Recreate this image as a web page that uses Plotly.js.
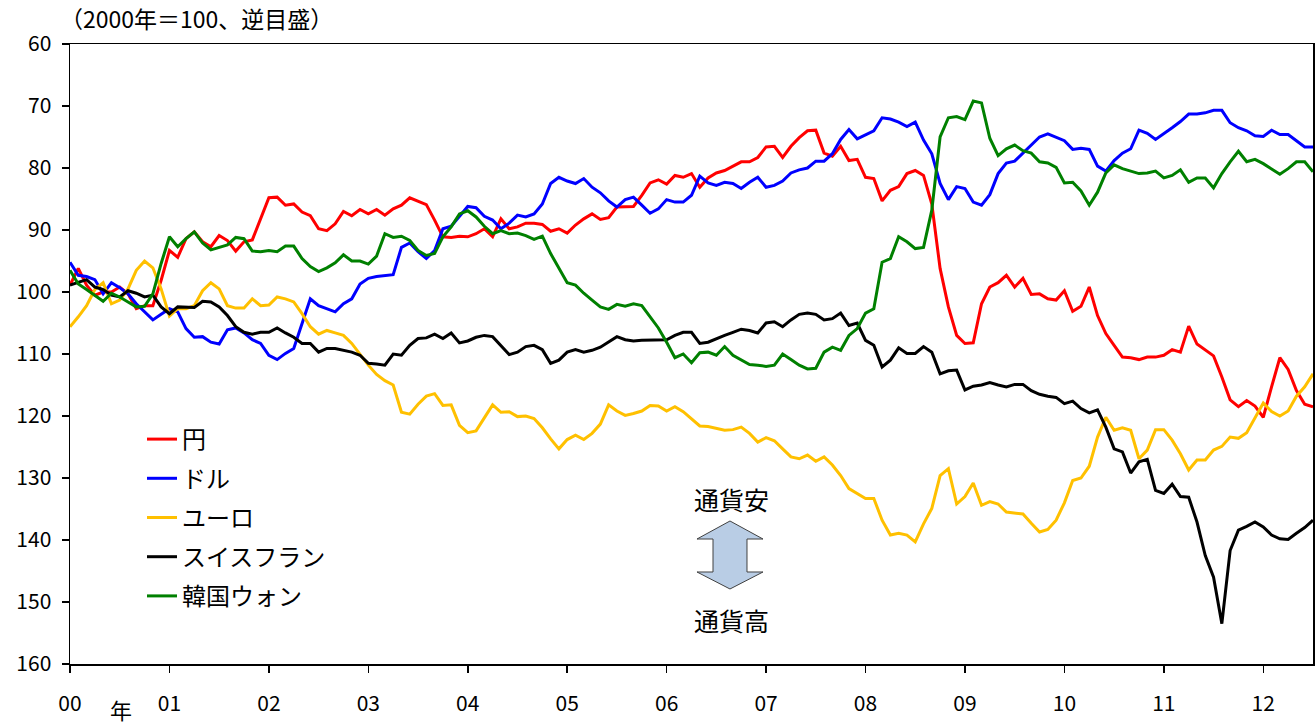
<!DOCTYPE html>
<html>
<head>
<meta charset="utf-8">
<script src="https://cdn.plot.ly/plotly-3.0.1.min.js"></script>
<style>
  html, body { margin: 0; padding: 0; background: #fff; }
  #chart { width: 1316px; height: 724px; }
</style>
</head>
<body>
<div id="chart"></div>
<script>
// Monthly series, Jan 2000 .. Jul 2012 (2000 = 100, reversed scale)
const seriesNames = ['円', 'ドル', 'ユーロ', 'スイスフラン', '韓国ウォン'];
const yearTickLabels = ['00','01','02','03','04','05','06','07','08','09','10','11','12'];

const yen = [98.9,96.2,98.9,100.5,100,100,99.2,100.3,102.7,102.2,102.2,98.1,
 93.3,94.4,91.4,90.3,91.9,92.7,90.9,91.7,93.4,91.9,91.6,88.2,
 84.8,84.7,86,85.8,87.1,87.7,89.8,90.1,89,87,87.7,86.7,
 87.4,86.7,87.6,86.6,86,84.8,85.3,85.9,88.4,91.1,91.2,91,
 91.1,90.6,89.8,91.1,88.2,89.8,89.5,88.9,88.9,89.1,90.2,89.8,
 90.5,89.2,88.2,87.4,88.3,88,86.3,86.3,86.2,84.4,82.4,81.9,
 82.6,81.2,81.5,80.9,83.1,81.6,80.8,80.4,79.7,79,79,78.3,
 76.6,76.5,78.3,76.5,75.1,74,73.9,77.6,78.1,76.5,78.8,78.6,
 81.5,81.7,85.3,83.6,83,80.9,80.4,81.2,85.8,96.2,102.4,107,
 108.3,108.2,101.9,99.2,98.5,97.3,99.2,97.8,100.4,100.3,101.1,101.3,
 99.8,103.1,102.3,99.2,103.8,106.7,108.6,110.5,110.6,110.9,110.5,110.5,
 110.2,109.3,109.7,105.5,108.4,109.3,110.3,113.7,117.4,118.5,117.5,118.4,
 120.2,115.3,110.6,112.5,115.9,118.1,118.5];

const dollar = [95.2,97.3,97.5,98,100.3,98.5,99.3,100.3,101.9,103.2,104.5,103.6,
 102.7,103.2,105.9,107.3,107.2,108.1,108.4,106.1,105.8,106.6,107.7,108.3,
 110.2,110.9,109.9,109.1,105.1,101.1,102.2,102.7,103.2,101.9,101.1,98.7,
 97.8,97.5,97.3,97.2,92.8,92.1,93.5,94.6,93.3,89.8,89.4,87.8,
 86.2,86.4,87.8,88.4,89.8,88.9,87.6,87.9,87.4,85.8,82.5,81.5,
 82.1,82.5,81.7,83.1,84,85.3,86.3,85.1,84.7,86,87.3,86.6,
 85.1,85.5,85.5,84.4,81.3,82.4,82.8,82.3,82.5,83.3,82.3,81.5,
 83.1,82.8,82.1,80.8,80.3,80,78.9,78.9,77.7,75.4,73.8,75.3,
 74.7,74,71.9,72.1,72.6,73.3,72.6,75.5,77.7,82.5,85.1,83,
 83.3,85.5,86,84.3,80.9,79.2,78.9,77.6,76.2,75,74.5,75.1,
 75.6,77,76.8,77,79.7,80.5,78.8,77.6,76.9,73.9,74.4,75.4,
 74.5,73.5,72.5,71.3,71.3,71.1,70.7,70.7,72.7,73.5,74,74.8,
 74.9,73.9,74.6,74.6,75.6,76.6,76.6];

const euro = [105.6,104,102.2,99.6,98.5,101.9,101.3,99.5,96.5,95,96.1,99.5,
 103.9,102.7,102.7,102.2,99.8,98.5,99.5,102.2,102.6,102.6,101.1,102.2,
 102.1,100.8,101.1,101.6,103.5,105.6,106.8,106.2,106.6,107,108.3,110,
 111.8,113.3,114.3,115,119.4,119.7,118.1,116.8,116.4,118.3,118.2,121.5,
 122.7,122.4,120.3,118.2,119.4,119.3,120.1,120,120.4,121.9,123.7,125.3,
 123.8,123.1,123.8,122.8,121.3,118.2,119.2,119.9,119.6,119.2,118.3,118.4,
 119.2,118.5,119.3,120.4,121.6,121.7,122,122.3,122.2,121.8,122.8,124.2,
 123.5,124,125.3,126.6,126.9,126.3,127.3,126.6,127.9,129.6,131.7,132.5,
 133.3,133.3,136.8,139.2,138.9,139.2,140.3,137.4,134.9,129.6,128.5,134.2,
 133,130.8,134.4,133.8,134.2,135.5,135.7,135.8,137.3,138.7,138.3,136.8,
 134,130.4,130,128.1,123.4,120.2,122.3,121.9,122.3,126.9,125.5,122.2,
 122.2,123.9,126.1,128.7,127.1,127.1,125.5,124.9,123.4,123.6,122.7,120.4,
 117.9,119.3,120,119.2,116.8,115.3,113.2];

const franc = [98.9,98.5,98,99.2,99.6,100.5,100.8,99.8,100.2,100.8,100.5,102.4,
 103.5,102.4,102.5,102.5,101.5,101.6,102.4,103.8,105.6,106.5,106.8,106.5,
 106.5,105.8,106.6,107.3,108.3,108.3,109.7,109.1,109.1,109.4,109.7,110.2,
 111.5,111.6,111.8,110,110.2,108.6,107.5,107.4,106.8,107.5,106.6,108.2,
 107.9,107.3,107,107.2,108.6,110.1,109.7,108.8,108.6,109.3,111.5,111,
 109.7,109.3,109.7,109.4,108.9,108.1,107.2,107.7,107.9,107.8,107.8,107.7,
 107.7,107,106.5,106.5,108.3,108.1,107.5,107,106.5,106,106.2,106.6,
 105,104.8,105.6,104.5,103.6,103.4,103.6,104.5,104.3,103.4,105.4,105,
 107.8,108.6,112.1,111,109,109.9,109.9,108.8,109.7,113.2,112.7,112.6,
 115.8,115.2,115,114.6,115,115.3,114.9,114.9,115.9,116.5,116.8,117,
 118,117.6,118.8,119.5,119,121.8,125.3,125.8,129.2,127.4,127,132,
 132.5,131,133,133.1,137.1,142.5,146,153.5,141.7,138.4,137.8,137.1,
 137.9,139.2,139.8,139.9,138.9,138,136.8];

const won = [96.5,98.7,99.6,100.5,101.5,100.2,100.8,101.6,102.4,102.3,100.3,95.4,
 91.1,92.7,91.4,90.3,92.1,93.2,92.8,92.4,91.2,91.4,93.4,93.5,
 93.3,93.5,92.6,92.6,94.6,95.9,96.7,96.1,95.3,94,95,95,
 95.5,94.2,90.6,91.2,91,91.7,93.3,94.1,93.8,91.1,89.5,87.4,
 86.9,87.9,89.4,90.6,90.1,90.6,90.5,90.9,91.5,91,93.8,96.2,
 98.5,98.9,100.2,101.3,102.4,102.8,102,102.3,101.9,102.2,104,105.8,
 108.1,110.6,110,111.4,109.8,109.7,110.2,108.8,110.2,111,111.7,111.8,
 112,111.8,110,110.9,111.8,112.4,112.3,109.7,108.9,109.4,107,105.9,
 103.4,102.7,95.2,94.6,91.1,91.9,93,92.8,86.8,75,71.9,71.7,
 72.2,69.2,69.5,75.2,78,76.9,76.3,77.2,77.6,79,79.2,79.9,
 82.4,82.3,83.7,86,83.9,80.8,79.5,80.1,80.5,80.9,80.8,80.5,
 81.6,81.2,80.3,82.3,81.6,81.6,83.2,80.9,79,77.3,79,78.6,
 79.3,80.1,81,80.1,79,79,80.6];

const seriesValues = [yen, dollar, euro, franc, won];
const seriesColors = ['#FF0000', '#0000FF', '#FFC000', '#000000', '#008000'];

// month positions in years since Jan 2000
const monthPos = yen.map((_, i) => i / 12);
const yearTickVals = yearTickLabels.map((_, i) => i);

// pixel -> paper helpers (plot area: x 70..1313, y 44..664)
const L = 70, T = 44, W = 1243, H = 620;
const px = x => (x - L) / W;
const py = y => (T + H - y) / H;

const FONT = '"Noto Sans CJK JP", "Noto Sans", sans-serif';

const traces = seriesNames.map((name, k) => ({
  type: 'scatter',
  mode: 'lines',
  name: name,
  legendgroup: 'g' + k,
  x: monthPos,
  y: seriesValues[k],
  line: { color: seriesColors[k], width: 3 },
  hoverinfo: 'skip'
}));

// double-headed arrow between 通貨安 / 通貨高
const arrowPts = [[730,521],[763,539],[747,539],[747,572],[763,572],[730,589],
                  [697,572],[713,572],[713,539],[697,539]];
const arrowPath = 'M' + arrowPts.map(p => px(p[0]).toFixed(5) + ',' + py(p[1]).toFixed(5)).join(' L') + ' Z';

const layout = {
  width: 1316,
  height: 724,
  margin: { l: L, r: 1316 - L - W, t: T, b: 724 - T - H, pad: 0 },
  paper_bgcolor: '#ffffff',
  plot_bgcolor: '#ffffff',
  font: { family: FONT, color: '#000', size: 20 },
  showlegend: true,
  legend: {
    x: px(142), xanchor: 'left',
    y: py(417), yanchor: 'top',
    bgcolor: 'rgba(0,0,0,0)',
    borderwidth: 0,
    traceorder: 'grouped',
    tracegroupgap: 5,
    font: { family: FONT, size: 24, color: '#000' }
  },
  xaxis: {
    range: [0, 12.5],
    tickmode: 'array',
    tickvals: yearTickVals,
    ticktext: yearTickLabels,
    ticks: 'outside',
    ticklen: 7,
    tickwidth: 1.5,
    tickcolor: '#000',
    showline: true,
    linecolor: '#000',
    linewidth: 1.5,
    mirror: true,
    showgrid: false,
    zeroline: false,
    ticklabelstandoff: 13,
    tickfont: { family: FONT, size: 21, color: '#000' },
    fixedrange: true
  },
  yaxis: {
    range: [160, 60],
    tick0: 60,
    dtick: 10,
    ticks: 'outside',
    ticklen: 7,
    tickwidth: 1.5,
    tickcolor: '#000',
    showline: true,
    linecolor: '#000',
    linewidth: 1.5,
    mirror: true,
    showgrid: false,
    zeroline: false,
    ticklabelstandoff: 6,
    tickfont: { family: FONT, size: 21, color: '#000' },
    fixedrange: true
  },
  shapes: [{
    type: 'path',
    xref: 'paper', yref: 'paper',
    path: arrowPath,
    fillcolor: '#B9CDE5',
    line: { color: '#404040', width: 1 },
    layer: 'above'
  }],
  annotations: [
    { text: '（2000年＝100、逆目盛）', xref: 'paper', yref: 'paper',
      x: px(58), y: py(18), xanchor: 'left', yanchor: 'middle', showarrow: false,
      font: { family: FONT, size: 23, color: '#000' } },
    { text: '年', xref: 'paper', yref: 'paper',
      x: px(121), y: py(709), xanchor: 'center', yanchor: 'middle', showarrow: false,
      font: { family: FONT, size: 22, color: '#000' } },
    { text: '通貨安', xref: 'paper', yref: 'paper',
      x: px(731), y: py(499), xanchor: 'center', yanchor: 'middle', showarrow: false,
      font: { family: FONT, size: 25, color: '#000' } },
    { text: '通貨高', xref: 'paper', yref: 'paper',
      x: px(731), y: py(620), xanchor: 'center', yanchor: 'middle', showarrow: false,
      font: { family: FONT, size: 25, color: '#000' } }
  ]
};

Plotly.newPlot('chart', traces, layout, { staticPlot: true, displayModeBar: false });
</script>
</body>
</html>
